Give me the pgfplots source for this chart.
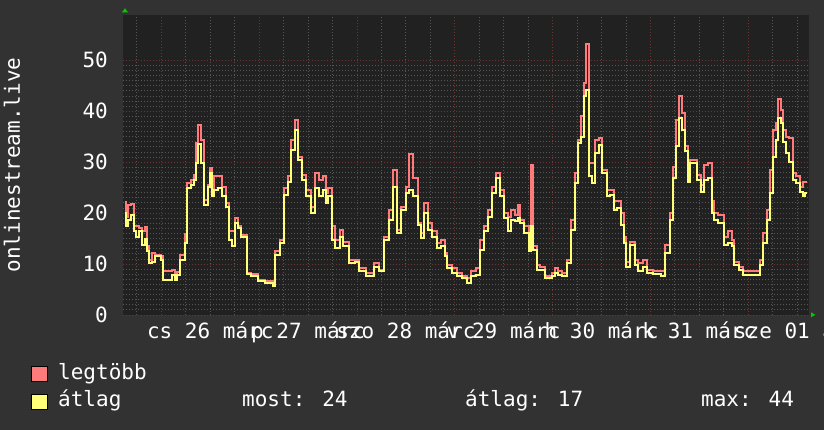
\documentclass[border=0pt]{standalone}
\usepackage{fontspec}
\setmainfont{DejaVu Sans Mono}
\usepackage{pgfplots}
\pgfplotsset{compat=1.18}
\definecolor{outerbg}{HTML}{323232}
\definecolor{plotbg}{HTML}{212121}
\definecolor{maxc}{HTML}{FF7A7A}
\definecolor{avgc}{HTML}{FFFF78}
\definecolor{majgrid}{HTML}{6E3434}
\definecolor{mingrid}{HTML}{565656}
\definecolor{arrowg}{HTML}{00CC00}
\newcommand\gf{\fontsize{21}{25}\selectfont}
\begin{document}
\gf
\begin{tikzpicture}[x=1pt,y=1pt]
\fill[outerbg] (0,0) rectangle (824,430);
\begin{axis}[
  at={(123pt,115pt)}, anchor=south west,
  scale only axis, width=686pt, height=300pt,
  xmin=-9.4, xmax=158.9, ymin=0, ymax=58.9,
  axis background/.style={fill=plotbg},
  axis line style={draw=none},
  /pgf/number format/assume math mode=true,
  every tick label/.append style={font=\gf, text=white},
  ytick={0,10,20,30,40,50},
  minor y tick num=9,
  xtick={0,24,48,72,96,120,144},
  xticklabels={},
  minor xtick={-6,6,12,18,30,36,42,54,60,66,78,84,90,102,108,114,126,132,138,150,156},
  extra x ticks={12,36,60,84,108,132,156},
  extra x tick labels={cs 26 márc,p 27 márc,szo 28 márc,v 29 márc,h 30 márc,k 31 márc,sze 01 ápr},
  extra x tick style={grid=none},
  major tick length=0pt, minor tick length=0pt,
  grid=both,
  major grid style={majgrid, dash pattern=on 1pt off 2pt, line width=0.9pt},
  minor grid style={mingrid, dash pattern=on 1pt off 2pt, line width=0.9pt},
  yticklabel style={anchor=east, inner sep=0pt, xshift=-15pt},
  xticklabel style={anchor=base, inner sep=0pt, yshift=-24pt},
  clip=false,
]
\addplot[const plot, maxc, line width=2pt] coordinates {
(-9.0,22.1) (-8.6,19.3) (-8.2,21.6) (-7.5,21.8) (-6.8,17.5) (-6.2,17.4) (-5.5,17.0) (-4.8,16.4)
(-4.1,17.3) (-3.6,13.5) (-3.0,10.8) (-2.2,12.1) (-1.5,11.8) (-0.2,11.5) (0.5,8.6) (2.6,8.9)
(3.3,8.2) (3.8,8.5) (4.6,11.8) (5.7,16.0) (6.2,26.0) (7.4,26.5) (8.0,27.5) (8.6,33.7)
(9.1,37.3) (9.8,34.4) (10.4,22.5) (11.5,25.5) (11.9,28.8) (12.4,24.6) (13.0,27.2)
(14.0,27.3) (15.0,25.2) (15.8,22.0) (16.5,16.4) (17.3,16.4) (18.0,19.0) (18.8,17.4) (19.6,15.7)
(21.0,8.2) (22.1,8.0) (23.7,6.9) (25.4,6.6) (27.4,6.0) (28.0,12.5) (29.0,14.8) (30.0,24.9)
(31.1,27.2) (31.9,34.4) (32.7,38.3) (33.5,31.1) (34.5,27.5) (35.6,24.6) (36.6,21.3) (37.6,27.8)
(38.8,26.5) (39.6,27.2) (40.4,23.9) (41.0,24.9) (41.9,17.4) (42.7,14.8) (43.8,16.7) (44.6,14.4)
(46.1,10.8) (47.4,10.8) (48.6,9.2) (50.2,8.2) (52.3,10.2) (53.5,8.9) (54.7,15.4) (55.9,20.6)
(56.9,28.5) (57.9,16.7) (58.8,21.3) (60.0,25.2) (60.8,31.7) (61.7,26.9)
(63.0,18.0) (63.8,16.1) (64.4,21.9) (65.4,18.0) (66.5,16.4) (67.6,14.1) (68.5,14.8) (69.5,12.1)
(70.2,9.9) (71.4,9.2) (72.6,8.2) (73.8,7.6) (74.9,7.3) (75.9,8.6) (77.1,9.2) (78.3,14.8)
(79.2,17.4) (80.2,20.6) (81.2,25.2) (82.0,27.8) (83.1,24.6) (84.1,20.0) (85.0,19.3) (85.9,20.6)
(86.7,19.7) (87.5,21.6) (88.0,18.7) (89.1,17.4) (90.1,14.1) (90.7,29.5) (91.3,13.5) (92.2,9.9)
(93.0,9.5) (94.2,7.6) (95.8,8.2) (96.5,9.2) (97.3,8.6) (98.3,8.2) (99.5,10.8) (100.6,18.7)
(101.4,27.8) (102.2,34.4) (103.0,39.0) (103.6,45.5) (104.2,53.3) (104.9,29.8) (105.7,29.8) (106.5,34.4)
(107.3,34.7) (108.1,28.5) (109.4,24.6) (110.1,24.6) (111.0,22.3) (111.7,22.3) (112.7,20.0) (113.4,15.4)
(114.0,10.5) (115.0,14.4) (116.2,10.8) (117.0,10.3) (118.1,10.8) (119.1,8.9) (120.7,8.6) (122.5,8.6)
(123.6,13.8) (124.8,20.0) (125.5,29.1) (126.3,38.3) (127.0,42.9) (127.7,39.6) (128.5,33.1) (129.1,26.5)
(129.7,30.4) (131.5,27.5) (132.3,25.5) (133.2,29.5) (134.1,29.8) (135.0,22.3) (135.6,20.0) (136.6,19.6)
(138.0,15.4) (139.0,16.4) (139.9,14.8) (140.5,10.5) (141.7,9.5) (142.7,8.6) (146.8,10.8) (147.5,16.1)
(148.5,20.6) (149.3,28.5) (150.1,36.3) (150.8,37.6) (151.3,42.5) (152.0,40.3) (152.5,36.3) (153.3,35.0)
(154.1,34.7) (155.0,27.8) (155.8,27.2) (156.6,25.2) (157.5,26.2) (158.5,26.2)
};
\addplot[const plot, avgc, line width=2pt] coordinates {
(-9.0,20.0) (-8.6,17.5) (-8.2,18.7) (-7.5,19.7) (-6.8,16.4) (-6.2,15.4) (-5.5,16.4) (-4.8,13.8)
(-4.1,15.0) (-3.6,12.5) (-3.0,10.2) (-2.2,10.5) (-1.5,11.5) (-0.2,10.8) (0.5,6.9) (2.6,7.9)
(3.3,6.9) (3.8,7.9) (4.6,10.8) (5.7,14.1) (6.2,25.0) (7.4,25.5) (8.0,26.5) (8.6,29.8)
(9.1,33.5) (9.8,29.8) (10.4,21.5) (11.5,25.2) (11.9,27.8) (12.4,23.3) (13.0,24.6)
(14.0,24.9) (15.0,23.3) (15.8,21.3) (16.5,14.8) (17.3,13.5) (18.0,18.0) (18.8,17.0) (19.6,15.4)
(21.0,8.1) (22.1,7.6) (23.7,6.6) (25.4,6.3) (27.4,5.6) (28.0,11.8) (29.0,14.1) (30.0,23.6)
(31.1,26.2) (31.9,32.4) (32.7,36.3) (33.5,30.4) (34.5,26.5) (35.6,23.3) (36.6,20.0) (37.6,24.9)
(38.8,23.3) (39.6,24.6) (40.4,21.9) (41.0,23.3) (41.9,14.8) (42.7,13.1) (43.8,15.4) (44.6,13.5)
(46.1,10.2) (47.4,10.5) (48.6,8.6) (50.2,7.6) (52.3,9.5) (53.5,8.6) (54.7,14.8) (55.9,18.7)
(56.9,25.2) (57.9,16.1) (58.8,20.6) (60.0,23.9) (60.8,24.6) (61.7,23.3)
(63.0,17.7) (63.8,15.1) (64.4,20.0) (65.4,16.7) (66.5,15.4) (67.6,13.1) (68.5,13.5) (69.5,11.5)
(70.2,9.2) (71.4,8.2) (72.6,7.7) (73.8,7.3) (74.9,6.3) (75.9,7.6) (77.1,7.9) (78.3,12.8)
(79.2,16.4) (80.2,19.3) (81.2,23.9) (82.0,26.9) (83.1,23.3) (84.1,19.0) (85.0,16.4) (85.9,18.7)
(86.7,18.4) (87.5,19.0) (88.0,18.0) (89.1,16.1) (90.1,12.5) (90.7,17.4) (91.3,12.8) (92.2,8.9)
(93.0,8.9) (94.2,7.3) (95.8,7.6) (96.5,8.2) (97.3,7.9) (98.3,7.6) (99.5,10.2) (100.6,16.7)
(101.4,25.9) (102.2,33.7) (103.0,35.0) (103.6,42.9) (104.2,44.2) (104.9,27.2) (105.7,25.9) (106.5,31.8)
(107.3,33.4) (108.1,27.8) (109.4,23.3) (110.1,23.6) (111.0,20.6) (111.7,21.0) (112.7,17.7) (113.4,14.1)
(114.0,9.5) (115.0,13.8) (116.2,9.9) (117.0,8.6) (118.1,9.5) (119.1,8.2) (120.7,8.0) (122.5,7.6)
(123.6,12.2) (124.8,18.7) (125.5,26.9) (126.3,33.1) (127.0,38.6) (127.7,36.3) (128.5,32.1) (129.1,26.2)
(129.7,29.8) (131.5,26.5) (132.3,24.2) (133.2,26.5) (134.1,26.9) (135.0,20.0) (135.6,18.7) (136.6,18.0)
(138.0,13.8) (139.0,14.1) (139.9,13.5) (140.5,9.9) (141.7,8.9) (142.7,7.9) (146.8,9.9) (147.5,14.1)
(148.5,18.7) (149.3,23.9) (150.1,31.1) (150.8,34.4) (151.3,38.6) (152.0,37.6) (152.5,34.0) (153.3,31.8)
(154.1,30.1) (155.0,26.5) (155.8,25.9) (156.6,24.2) (157.5,23.3) (158.0,23.9) (158.5,23.9)
};
\end{axis}
% axis arrows
\fill[arrowg] (122,417.7) -- (128,417.7) -- (125,421.7) -- cycle;
\fill[arrowg] (811,117.7) -- (811,112.7) -- (815.3,115.2) -- cycle;
% y axis title
\node[rotate=90, text=white, inner sep=0pt] at (12,265) {onlinestream.live};
% legend
\filldraw[fill=maxc, draw=black, line width=0.8pt] (31,49) rectangle (47,64);
\filldraw[fill=avgc, draw=black, line width=0.8pt] (31,21) rectangle (47,36);
\node[anchor=base west, inner sep=0pt, text=white] at (58,50) {legtöbb};
\node[anchor=base west, inner sep=0pt, text=white] at (58,23) {átlag};
\node[anchor=base west, inner sep=0pt, text=white] at (242,23) {most: 24};
\node[anchor=base west, inner sep=0pt, text=white] at (465,23) {átlag: 17};
\node[anchor=base west, inner sep=0pt, text=white] at (701,23) {max: 44};
\pgfresetboundingbox
\useasboundingbox (0,0) rectangle (824,430);
\end{tikzpicture}
\end{document}
